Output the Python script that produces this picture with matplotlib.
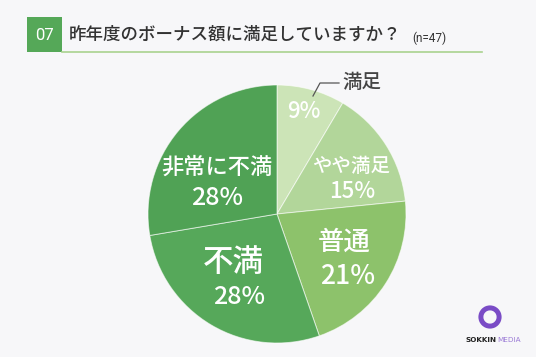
import matplotlib.pyplot as plt
from matplotlib.patches import Rectangle, Wedge
from matplotlib.lines import Line2D

plt.rcParams['font.family'] = ['Noto Sans CJK JP', 'DejaVu Sans']

# data
labels = ["満足", "やや満足", "普通", "不満", "非常に不満"]
counts = [4, 7, 10, 13, 13]   # n=47
colors = ["#cce4b7", "#b2d69a", "#8dc26b", "#56a85a", "#50a255"]

W, H = 536, 357
fig = plt.figure(figsize=(W / 100, H / 100), dpi=100)
fig.patch.set_facecolor("#f7f7f9")


def fx(x):
    return x / W


def fy(y):
    return 1 - y / H


# header
fig.patches.append(Rectangle((fx(27), fy(52)), 35 / W, 35 / H, transform=fig.transFigure,
                             facecolor="#55a858", edgecolor="none"))
fig.text(fx(44.5), fy(35), "07", color="white", fontsize=12, ha="center", va="center",
         family=["Roboto", "DejaVu Sans"])
fig.add_artist(Line2D([fx(62), fx(482)], [fy(52), fy(52)], color="#a9d28f", lw=1.2))
fig.text(fx(69), fy(35), "昨年度のボーナス額に満足していますか？", color="#333333",
         fontsize=12.6, ha="left", va="center", weight="medium")
fig.text(fx(412), fy(38), "(n=47)", color="#333333", fontsize=8.5, ha="left", va="center",
         family=["Roboto", "DejaVu Sans"])

# pie
cx, cy, r = 277, 214, 129
ax = fig.add_axes([fx(cx - r), fy(cy + r), 2 * r / W, 2 * r / H])
ax.pie(counts, colors=colors, startangle=90, counterclock=False,
       wedgeprops=dict(edgecolor=(1, 1, 1, 0.6), linewidth=0.7))
ax.set_xlim(-1, 1)
ax.set_ylim(-1, 1)
ax.set_aspect("auto")
ax.axis("off")

n = sum(counts)
pct = [f"{round(c / n * 100)}%" for c in counts]

# label positions (pixel centres) and font sizes
name_pos = [(362, 83), (351, 167), (344, 242), (233, 262), (217, 167)]
pct_pos = [(304, 112), (352, 192), (348, 277), (239, 297), (217, 198)]
name_size = [14, 14, 19, 22, 16]
pct_size = [16, 16, 19, 18, 18]
name_color = ["#444444", "white", "white", "white", "white"]

for i in range(len(labels)):
    fig.text(fx(name_pos[i][0]), fy(name_pos[i][1]), labels[i], color=name_color[i],
             fontsize=name_size[i], ha="center", va="center", weight="medium")
    fig.text(fx(pct_pos[i][0]), fy(pct_pos[i][1]), pct[i], color="white",
             fontsize=pct_size[i], ha="center", va="center", weight="medium")

# leader line for 満足
fig.add_artist(Line2D([fx(313), fx(320), fx(339)], [fy(96), fy(83), fy(83)],
                      color="#555555", lw=0.9))

# logo
lax = fig.add_axes([fx(470), fy(337), 40 / W, 40 / H])
lax.set_xlim(-1, 1)
lax.set_ylim(-1, 1)
lax.axis("off")
lax.add_patch(Wedge((0, 0), 0.58, 0, 360, width=0.25, facecolor="#7a4cc6"))
fig.text(fx(497), fy(340), "SOKKIN", color="#222222", fontsize=5.2, weight="bold",
         ha="right", va="center", family=["DejaVu Sans"])
fig.text(fx(497), fy(340), "MEDIA", color="#9b7bd6", fontsize=5.2,
         ha="left", va="center", family=["DejaVu Sans"])

fig.savefig("out.png", dpi=100, facecolor=fig.get_facecolor())
